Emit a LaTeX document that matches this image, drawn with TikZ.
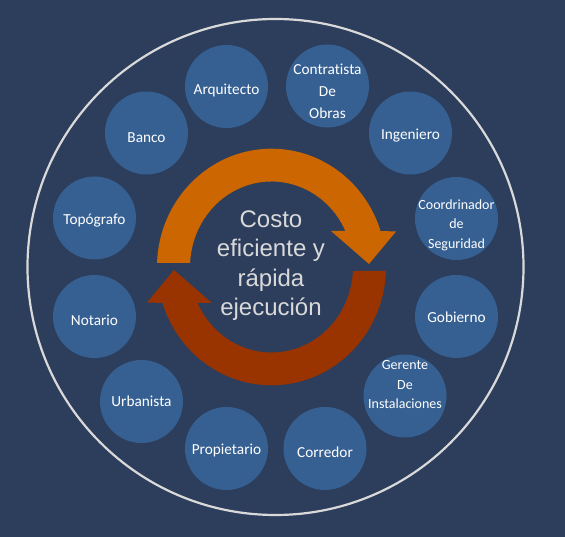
\documentclass[tikz,border=0pt]{standalone}
\usepackage{fontspec}
\setmainfont{Carlito}[Ligatures=NoCommon]
\newfontfamily\hubfont{Liberation Sans}[Ligatures=NoCommon]
\definecolor{backdrop}{HTML}{2C3E5C}
\definecolor{memberblue}{HTML}{366092}
\definecolor{cycleorange}{HTML}{CC6600}
\definecolor{cyclebrown}{HTML}{993300}
\definecolor{ringgray}{HTML}{D9D9D9}
\tikzset{
	member/.style={circle, fill=memberblue, minimum size=83pt, inner sep=0pt},
	member text/.style={text=white, align=center, inner sep=0pt, font=\fontsize{15.3}{22}\selectfont},
	small text/.style={font=\fontsize{14}{19.5}\selectfont},
	hub text/.style={text=ringgray, align=center, font=\hubfont\fontsize{24}{29.5}\selectfont}
}

\begin{document}
\begin{tikzpicture}[x=1pt, y=1pt]
		\fill[backdrop] (-276,-270) rectangle (289,267);
		\useasboundingbox (-276,-270) rectangle (289,267);

		\draw[ringgray, line width=2.2pt] (-0.5,0) circle (248);

		% the two arrows of the cycle
		\coordinate (hub) at (-4.5,0);
		\begin{scope}[shift={(hub)}]
			\fill[cycleorange] (178.06:114.5 and 118.3) arc[start angle=178.06, end angle=17.72, x radius=114.5, y radius=118.3]
				-- (124.5,35.5) -- (97.5,3) -- (59.5,36)
				-- (24.9:81.5 and 85.5) arc[start angle=24.9, end angle=177.32, x radius=81.5, y radius=85.5] -- cycle;
			\fill[cyclebrown, rotate=180] (178.06:114.5 and 118.3) arc[start angle=178.06, end angle=17.72, x radius=114.5, y radius=118.3]
				-- (124.5,35.5) -- (97.5,3) -- (59.5,36)
				-- (24.9:81.5 and 85.5) arc[start angle=24.9, end angle=177.32, x radius=81.5, y radius=85.5] -- cycle;
		\end{scope}
		\node[hub text] (motto) at (-5,1.6) {Costo\\eficiente y\\rápida\\ejecución};

		% the members round the cycle
		\node[member] (arquitecto) at (-49.5,180.5) {};
		\node[member] (contratista) at (51.5,181) {};
		\node[member] (ingeniero) at (134.5,134) {};
		\node[member] (coordinador) at (180.5,48.5) {};
		\node[member] (gobierno) at (180.5,-49.5) {};
		\node[member] (gerente) at (129,-129) {};
		\node[member] (corredor) at (49,-181.5) {};
		\node[member] (propietario) at (-49.5,-181.5) {};
		\node[member] (urbanista) at (-134.5,-134.5) {};
		\node[member] (notario) at (-181.5,-49.5) {};
		\node[member] (topografo) at (-181.5,49) {};
		\node[member] (banco) at (-129.5,134) {};

		\node[member text] (arquitecto text) at ([yshift=-3.5]arquitecto) {Arquitecto};
		\node[member text] (contratista text) at ([yshift=-5.5]contratista) {Contratista\\De\\Obras};
		\node[member text] (ingeniero text) at ([yshift=-3]ingeniero) {Ingeniero};
		\node[member text, small text] (coordinador text) at ([yshift=-6.5]coordinador) {Coordrinador\\de\\Seguridad};
		\node[member text] (gobierno text) at ([yshift=-1]gobierno) {Gobierno};
		\node[member text, small text] (gerente text) at ([yshift=11]gerente) {Gerente\\De\\Instalaciones};
		\node[member text] (corredor text) at ([yshift=-4]corredor) {Corredor};
		\node[member text] (propietario text) at ([yshift=-1.5]propietario) {Propietario};
		\node[member text] (urbanista text) at (urbanista) {Urbanista};
		\node[member text] (notario text) at ([yshift=-4]notario) {Notario};
		\node[member text] (topografo text) at ([yshift=-3]topografo) {Topógrafo};
		\node[member text] (banco text) at ([yshift=-4.3]banco) {Banco};
	\end{tikzpicture}
\end{document}
